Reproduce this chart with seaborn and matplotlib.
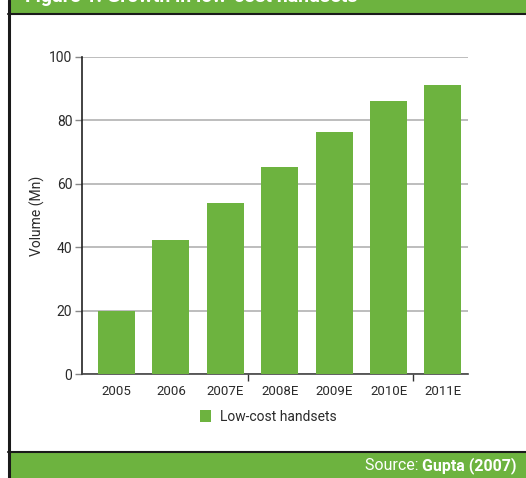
import matplotlib
matplotlib.use("Agg")
import matplotlib.pyplot as plt
import seaborn as sns
from matplotlib.patches import Rectangle, Patch
from matplotlib.lines import Line2D

years = ["2005", "2006", "2007E", "2008E", "2009E", "2010E", "2011E"]
volumes = [20, 42.4, 54, 65.4, 76.4, 86.2, 91.2]
y_ticks = [0, 20, 40, 60, 80, 100]
series_name = "Low-cost handsets"
y_label = "Volume (Mn)"
title_text = "Figure 1: Growth in low-cost handsets"

GREEN = "#6db33f"
TXT = "#2a2a2a"

sns.set_theme(style="white")
plt.rcParams["font.family"] = ["Roboto", "DejaVu Sans"]

fig = plt.figure(figsize=(5.26, 4.78), dpi=100)
W, H = 526, 478

def fx(px):
    return px / W

def fy(py):
    return 1 - py / H

# frame decorations
fig.patches.append(Rectangle((fx(10), fy(13)), 1, 13 / H, transform=fig.transFigure,
                             facecolor=GREEN, edgecolor="none", zorder=0))
fig.patches.append(Rectangle((fx(10), 0), 1, 26 / H, transform=fig.transFigure,
                             facecolor=GREEN, edgecolor="none", zorder=0))
fig.lines.append(Line2D([fx(8.7), fx(8.7)], [0, 1], transform=fig.transFigure,
                        color="#1a1a1a", lw=2.2))
fig.lines.append(Line2D([fx(8), 1], [fy(13.8), fy(13.8)], transform=fig.transFigure,
                        color="#1a1a1a", lw=1.5))
fig.lines.append(Line2D([fx(8), 1], [fy(451.5), fy(451.5)], transform=fig.transFigure,
                        color="#1a1a1a", lw=1.5))

fig.text(fx(25), fy(2.0), title_text, color="white", fontsize=14, fontweight="bold",
         ha="left", va="baseline")

src = fig.text(fx(516), fy(466), "Gupta (2007)", color="white", fontsize=11.5,
               fontweight="bold", ha="right", va="center")
fig.canvas.draw()
bb = src.get_window_extent()
fig.text(bb.x0 / fig.bbox.width + 0.002, fy(466), "Source: ", color="white",
         fontsize=11.5, ha="right", va="center")

ax = fig.add_axes([fx(82), fy(374), fx(468) - fx(82), (374 - 57) / H])
sns.barplot(x=years, y=volumes, color=GREEN, saturation=1, width=0.68, ax=ax,
            linewidth=0, edgecolor="none", zorder=3)

ax.set_xlim(-0.635, 6.46)
ax.set_ylim(0, 100)
ax.set_yticks(y_ticks)
ax.yaxis.grid(True, color="#bdbdbd", lw=1.4, zorder=0)
ax.set_axisbelow(True)
ax.set_ylabel(y_label, fontsize=10, color=TXT, labelpad=3)
ax.set_xlabel("")

for s in ["top", "right"]:
    ax.spines[s].set_visible(False)
ax.spines["left"].set_color("#222222")
ax.spines["left"].set_linewidth(1.2)
ax.spines["bottom"].set_color("#444444")
ax.spines["bottom"].set_linewidth(1.2)

ax.tick_params(axis="y", which="major", left=True, length=5, width=1, color="#888888",
               labelsize=10, labelcolor=TXT, pad=2)
ax.tick_params(axis="x", which="major", bottom=False, labelsize=9.5,
               labelcolor=TXT, pad=2)
ax.set_xticks([2.41, 5.45], minor=True)
ax.tick_params(axis="x", which="minor", bottom=True, length=5, width=1, color="#333333")

handles = [Patch(facecolor=GREEN, edgecolor="none", label=series_name)]
fig.legend(handles=handles, loc="center", bbox_to_anchor=(fx(268), fy(417)),
           frameon=False, fontsize=10, handlelength=0.85, handleheight=0.95,
           handletextpad=0.6, labelcolor=TXT)

fig.savefig("out.png", dpi=100)
